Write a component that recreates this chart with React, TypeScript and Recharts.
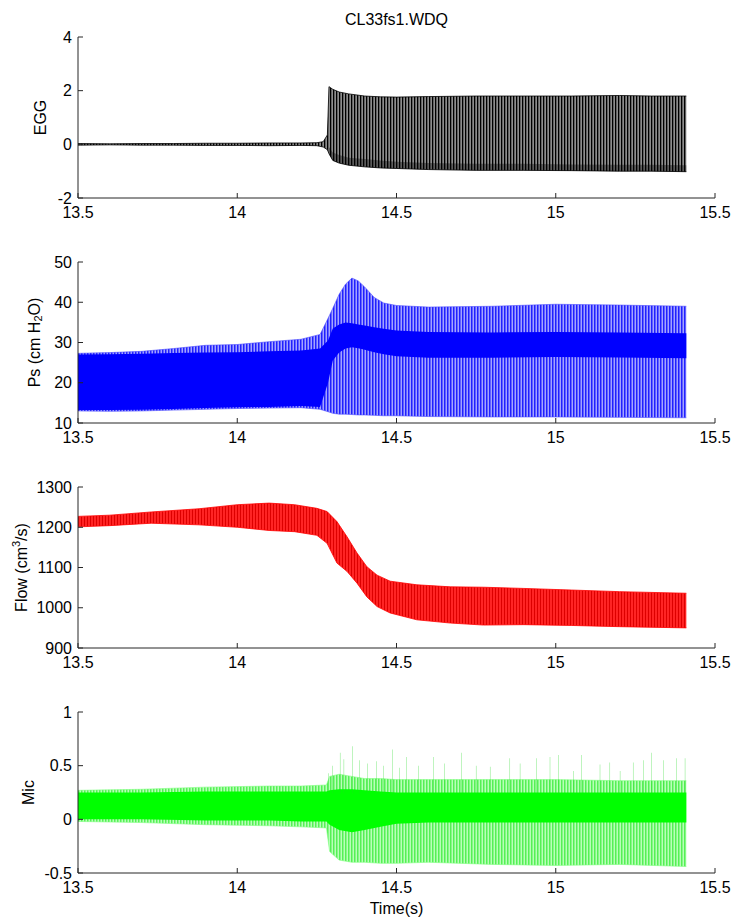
import React from 'react';
import { ComposedChart, Area, Bar, XAxis, YAxis } from 'recharts';

// time axis shared by all four panels
const timeTicks = [13.5, 14, 14.5, 15, 15.5];

// EGG envelope
const eggTime = [13.5, 13.6, 13.7, 13.8, 13.9, 14.0, 14.1, 14.2, 14.25, 14.27, 14.283, 14.288, 14.3, 14.32, 14.35, 14.4, 14.45, 14.5, 14.6, 14.75, 14.9, 15.05, 15.2, 15.3, 15.41];
const eggHigh = [0.03, 0.02, 0.03, 0.03, 0.04, 0.04, 0.05, 0.05, 0.06, 0.1, 0.35, 2.15, 2.05, 1.95, 1.88, 1.8, 1.77, 1.76, 1.78, 1.8, 1.8, 1.8, 1.82, 1.8, 1.8];
const eggLow = [-0.03, -0.02, -0.03, -0.03, -0.04, -0.04, -0.05, -0.04, -0.05, -0.1, -0.2, -0.35, -0.6, -0.7, -0.78, -0.84, -0.88, -0.9, -0.94, -0.97, -0.97, -0.98, -1.0, -1.0, -1.02];
const eggCore = [null, null, null, null, null, null, null, null, null, null, null, -0.1, -0.3, -0.4, -0.5, -0.55, -0.6, -0.65, -0.7, -0.72, -0.72, -0.75, -0.76, -0.76, -0.78];
const eggTicks = [-2, 0, 2, 4];

// Ps (subglottal pressure)
const psTime = [13.5, 13.6, 13.7, 13.8, 13.9, 14.0, 14.1, 14.2, 14.26, 14.285, 14.3, 14.32, 14.34, 14.36, 14.38, 14.4, 14.43, 14.46, 14.5, 14.6, 14.8, 15.0, 15.2, 15.41];
const psHigh = [27.3, 27.5, 27.8, 28.5, 29.3, 29.5, 30.2, 30.8, 32, 36, 38.5, 42, 44.5, 46, 45.3, 43.8, 41.2, 39.8, 39.2, 38.8, 39, 39.5, 39.3, 39];
const psLow = [13, 12.9, 13, 13.2, 13.4, 13.6, 13.7, 13.8, 13.4, 12.8, 12.4, 12.2, 12.2, 12.1, 12, 12, 11.9, 11.8, 11.8, 11.6, 11.5, 11.5, 11.4, 11.3];
const psCoreHigh = [27, 27.1, 27.2, 27.4, 27.5, 27.6, 27.8, 28, 28.5, 30.5, 33.5, 34.5, 35, 34.8, 34.5, 34.2, 33.8, 33.4, 33, 32.6, 32.5, 32.6, 32.5, 32.3];
const psCoreLow = [13.2, 13.2, 13.3, 13.5, 13.7, 13.9, 14, 14.2, 14, 20, 25.5, 27.5, 28.5, 28.8, 28.6, 28.2, 27.6, 27.1, 26.6, 26.2, 26.2, 26.4, 26.3, 26.1];
const psTicks = [10, 20, 30, 40, 50];

// Flow
const flowTime = [13.5, 13.6, 13.73, 13.88, 14.0, 14.1, 14.18, 14.25, 14.282, 14.313, 14.345, 14.376, 14.407, 14.439, 14.48, 14.564, 14.669, 14.773, 14.9, 15.05, 15.2, 15.41];
const flowHigh = [1227, 1230, 1238, 1246, 1256, 1260, 1256, 1247, 1239, 1214, 1176, 1136, 1102, 1081, 1066, 1057, 1052, 1051, 1048, 1044, 1040, 1036];
const flowLow = [1201, 1204, 1210, 1206, 1200, 1192, 1189, 1180, 1160, 1111, 1090, 1061, 1027, 1003, 987, 970, 962, 957, 958, 956, 953, 950];
const flowTicks = [900, 1000, 1100, 1200, 1300];

// Mic
const micTime = [13.5, 13.7, 13.9, 14.1, 14.2, 14.28, 14.29, 14.32, 14.36, 14.4, 14.45, 14.5, 14.6, 14.8, 15.0, 15.2, 15.41];
const micCoreHigh = [0.25, 0.25, 0.26, 0.26, 0.26, 0.26, 0.27, 0.28, 0.28, 0.27, 0.26, 0.25, 0.25, 0.25, 0.25, 0.25, 0.25];
const micCoreLow = [0.0, 0.0, -0.01, -0.01, -0.02, -0.02, -0.05, -0.1, -0.12, -0.1, -0.07, -0.04, -0.03, -0.03, -0.03, -0.03, -0.03];
const micHigh = [0.27, 0.28, 0.3, 0.31, 0.31, 0.32, 0.4, 0.42, 0.4, 0.38, 0.38, 0.37, 0.37, 0.37, 0.37, 0.36, 0.36];
const micLow = [-0.02, -0.03, -0.05, -0.06, -0.07, -0.08, -0.3, -0.38, -0.4, -0.4, -0.41, -0.41, -0.4, -0.42, -0.43, -0.42, -0.44];
const micSpikeTime = [14.286, 14.3, 14.323, 14.335, 14.361, 14.385, 14.41, 14.438, 14.46, 14.488, 14.51, 14.532, 14.57, 14.616, 14.65, 14.705, 14.75, 14.794, 14.856, 14.888, 14.94, 14.982, 15.008, 15.055, 15.081, 15.139, 15.17, 15.202, 15.243, 15.275, 15.301, 15.338, 15.38, 15.406];
const micSpikePeak = [0.43, 0.5, 0.62, 0.56, 0.68, 0.55, 0.52, 0.54, 0.5, 0.65, 0.48, 0.58, 0.5, 0.58, 0.52, 0.62, 0.5, 0.49, 0.57, 0.52, 0.57, 0.58, 0.6, 0.45, 0.6, 0.51, 0.53, 0.45, 0.53, 0.55, 0.62, 0.55, 0.57, 0.57];
const micTicks = [-0.5, 0, 0.5, 1];

const FONT = '"Liberation Sans", Arial, Helvetica, sans-serif';
const AXIS = '#262626';
const FS = 16;

const eggData = eggTime.map((t, i) => ({
  t,
  band: [eggLow[i], eggHigh[i]],
  core: eggCore[i] == null ? null : [eggLow[i], eggCore[i]],
}));

const psData = psTime.map((t, i) => ({
  t,
  band: [psLow[i], psHigh[i]],
  core: [psCoreLow[i], psCoreHigh[i]],
}));

const flowData = flowTime.map((t, i) => ({ t, band: [flowLow[i], flowHigh[i]] }));

const micData = [
  ...micTime.map((t, i) => ({
    t,
    band: [micLow[i], micHigh[i]] as number[] | null,
    core: [micCoreLow[i], micCoreHigh[i]] as number[] | null,
    spike: null as number[] | null,
  })),
  ...micSpikeTime.map((t, i) => ({ t, band: null, core: null, spike: [0.24, micSpikePeak[i]] })),
].sort((a, b) => a.t - b.t);

const tickStyle = { fill: '#000', fontSize: FS, fontFamily: FONT };

function yLabel(x: number, parts: React.ReactNode) {
  const y = 37 + 161 / 2;
  return () => (
    <text
      x={x}
      y={y}
      transform={`rotate(-90 ${x} ${y})`}
      textAnchor="middle"
      dominantBaseline="central"
      fontSize={FS}
      fontFamily={FONT}
      fill="#000"
    >
      {parts}
    </text>
  );
}

function Panel({ top, height, data, domain, ticks, label, xLabel, children }: any) {
  const xHeight = height - 37 - 161;
  return (
    <div style={{ position: 'absolute', left: 0, top }}>
      <ComposedChart width={742} height={height} data={data} margin={{ top: 37, right: 27, bottom: 0, left: 0 }}>
        {children}
        <XAxis
          dataKey="t"
          type="number"
          domain={[13.5, 15.5]}
          ticks={timeTicks}
          interval={0}
          allowDataOverflow
          height={xHeight}
          tickSize={-5}
          tickMargin={14}
          stroke={AXIS}
          tick={tickStyle}
          label={xLabel}
        />
        <XAxis
          xAxisId="top"
          orientation="top"
          dataKey="t"
          type="number"
          domain={[13.5, 15.5]}
          ticks={timeTicks}
          interval={0}
          allowDataOverflow
          height={0}
          tickSize={-5}
          tick={false}
          stroke={AXIS}
        />
        <YAxis
          type="number"
          domain={domain}
          ticks={ticks}
          interval={0}
          allowDataOverflow
          width={78}
          tickSize={-5}
          tickMargin={11}
          stroke={AXIS}
          tick={tickStyle}
          label={label}
        />
        <YAxis
          yAxisId="right"
          orientation="right"
          type="number"
          domain={domain}
          ticks={ticks}
          interval={0}
          allowDataOverflow
          width={0}
          tickSize={-5}
          tick={false}
          stroke={AXIS}
        />
      </ComposedChart>
    </div>
  );
}

function stripes(id: string, bg: string, line: string, w: number) {
  return (
    <pattern id={id} width={3} height={8} patternUnits="userSpaceOnUse">
      <rect width={3} height={8} fill={bg} />
      <rect width={w} height={8} fill={line} />
    </pattern>
  );
}

export default function App() {
  return (
    <div style={{ position: 'absolute', left: 0, top: 0, width: 742, height: 924, background: '#fff', fontFamily: FONT }}>
      <div style={{ position: 'absolute', left: 296.5, top: 10, width: 200, textAlign: 'center', fontSize: FS, lineHeight: '20px', color: '#000' }}>
        CL33fs1.WDQ
      </div>

      <Panel top={0} height={225} data={eggData} domain={[-2, 4]} ticks={eggTicks} label={yLabel(40, 'EGG')}>
        <defs>{stripes('eggStripe', '#8e8e8e', '#000', 1.3)}</defs>
        <Area dataKey="band" type="linear" fill="url(#eggStripe)" fillOpacity={1} stroke="#000" strokeWidth={0.8} dot={false} activeDot={false} isAnimationActive={false} />
        <Area dataKey="core" type="linear" fill="#000" fillOpacity={0.35} stroke="none" dot={false} activeDot={false} isAnimationActive={false} />
      </Panel>

      <Panel
        top={225}
        height={225}
        data={psData}
        domain={[10, 50]}
        ticks={psTicks}
        label={yLabel(34, [
          <tspan key="a">Ps (cm H</tspan>,
          <tspan key="b" dy={4} fontSize={11}>2</tspan>,
          <tspan key="c" dy={-4}>O)</tspan>,
        ])}
      >
        <defs>{stripes('psStripe', '#a4a4ff', '#2020ff', 1.5)}</defs>
        <Area dataKey="band" type="linear" fill="url(#psStripe)" fillOpacity={1} stroke="#4a4aff" strokeWidth={0.6} dot={false} activeDot={false} isAnimationActive={false} />
        <Area dataKey="core" type="linear" fill="#0000ff" fillOpacity={1} stroke="none" dot={false} activeDot={false} isAnimationActive={false} />
      </Panel>

      <Panel
        top={450}
        height={225}
        data={flowData}
        domain={[900, 1300]}
        ticks={flowTicks}
        label={yLabel(21, [
          <tspan key="a">Flow (cm</tspan>,
          <tspan key="b" dy={-5} fontSize={11}>3</tspan>,
          <tspan key="c" dy={5}>/s)</tspan>,
        ])}
      >
        <defs>{stripes('flowStripe', '#ff2424', '#dd0000', 1)}</defs>
        <Area dataKey="band" type="linear" fill="url(#flowStripe)" fillOpacity={1} stroke="#ff0000" strokeWidth={0.8} dot={false} activeDot={false} isAnimationActive={false} />
      </Panel>

      <Panel
        top={675}
        height={249}
        data={micData}
        domain={[-0.5, 1]}
        ticks={micTicks}
        label={yLabel(28, 'Mic')}
        xLabel={() => (
          <text x={396.5} y={233} textAnchor="middle" dominantBaseline="central" fontSize={FS} fontFamily={FONT} fill="#000">
            Time(s)
          </text>
        )}
      >
        <defs>{stripes('micStripe', '#b8ffb8', '#55f055', 1.5)}</defs>
        <Area dataKey="band" type="linear" connectNulls fill="url(#micStripe)" fillOpacity={1} stroke="#7dff7d" strokeWidth={0.6} dot={false} activeDot={false} isAnimationActive={false} />
        <Bar dataKey="spike" barSize={1.6} fill="#22d822" isAnimationActive={false} />
        <Area dataKey="core" type="linear" connectNulls fill="#00ff00" fillOpacity={1} stroke="none" dot={false} activeDot={false} isAnimationActive={false} />
      </Panel>
    </div>
  );
}
